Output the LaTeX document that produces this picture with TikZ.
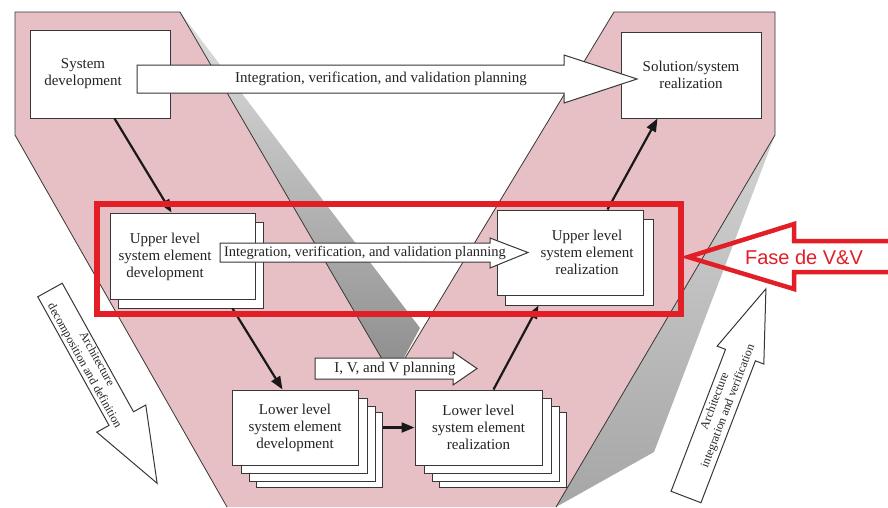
\documentclass[tikz,border=0pt]{standalone}
\usepackage{fontspec}
\setmainfont{Liberation Serif}
\newfontfamily\arialf{Liberation Sans}
\usetikzlibrary{arrows.meta,calc}
\definecolor{vpink}{RGB}{231,192,197}
\definecolor{vred}{RGB}{226,30,38}
\definecolor{edgec}{RGB}{55,55,55}
\definecolor{txtc}{RGB}{35,35,35}
\begin{document}
\begin{tikzpicture}[x=1pt,y=-1pt,
  box/.style={draw=edgec, fill=white, line width=1pt, inner sep=0pt},
  lbl/.style={text=txtc, font=\fontsize{15}{17}\selectfont, align=center, inner sep=0pt},
  rotlbl/.style={text=txtc, font=\fontsize{12}{14}\selectfont, align=center, inner sep=0pt},
  blockarrow/.style={draw=edgec, fill=white, line width=1pt, line join=miter},
  conn/.style={draw=black!90, line width=2.2pt, -{Triangle[length=13pt,width=10pt]}},
]
\useasboundingbox (0,0) rectangle (888,507);
\fill[white] (0,0) rectangle (888,507);

% V shape
\fill[vpink] (15,12)--(180,12)--(393,378)--(614,12)--(775,12)--(775,135)--(556,507)--(227,507)--(15,135)--cycle;
\shade[top color=gray!25, bottom color=gray!90] (180,12)--(420,328)--(393,378)--cycle;
\shade[top color=gray!35, bottom color=gray!70] (775,135)--(654,452)--(556,507)--cycle;
\draw[edgec, line width=0.8pt] (227,507)--(15,135)--(15,12)--(180,12)--(393,378)--(614,12)--(775,12)--(775,135)--(556,507);

% boxes
\node[box, minimum width=140pt, minimum height=88pt] (sd) at (100,74) {};
\node[box, minimum width=140pt, minimum height=86pt] (sol) at (691,75) {};
\node[box, minimum width=145pt, minimum height=86pt] (udb) at (190.5,265) {};
\node[box, minimum width=145pt, minimum height=86pt] (ud) at (182.5,256) {};
\node[box, minimum width=148pt, minimum height=86pt] (urb) at (579,262) {};
\node[box, minimum width=146pt, minimum height=85pt] (ur) at (570,252.5) {};

\node[box, minimum width=126pt, minimum height=75pt] (ldc) at (319,449.5) {};
\node[box, minimum width=126pt, minimum height=75pt] (ldb2) at (312,443.5) {};
\node[box, minimum width=126pt, minimum height=75pt] (ldb1) at (304,435.5) {};
\node[box, minimum width=126pt, minimum height=75pt] (ld) at (295,427.5) {};

\node[box, minimum width=127pt, minimum height=75pt] (lrc) at (502.5,449.5) {};
\node[box, minimum width=127pt, minimum height=75pt] (lrb2) at (495.5,443.5) {};
\node[box, minimum width=127pt, minimum height=75pt] (lrb1) at (487.5,435.5) {};
\node[box, minimum width=127pt, minimum height=75pt] (lr) at (478.5,427.5) {};

% box texts
\node[lbl] (sdt) at (83,74) {System\\development};
\node[lbl] (solt) at (691,75) {Solution/system\\realization};
\node[lbl] (udt) at (165,257) {Upper level\\system element\\development};
\node[lbl] (urt) at (587,252) {Upper level\\system element\\realization};
\node[lbl] (ldt) at (295,427.5) {Lower level\\system element\\development};
\node[lbl] (lrt) at (478.5,427.5) {Lower level\\system element\\realization};

% block arrows
\draw[blockarrow] (137,65)--(564,65)--(564,55)--(637,79)--(564,103)--(564,93)--(137,93)--cycle;
\node[lbl] (ivv1) at (381,79) {Integration, verification, and validation planning};
\draw[blockarrow] (220,243)--(490,243)--(490,238)--(528,252.5)--(490,268)--(490,262)--(220,262)--cycle;
\node[lbl, font=\fontsize{14.5}{17}\selectfont] (ivv2) at (365,253) {Integration, verification, and validation planning};
\draw[blockarrow] (315,358)--(453,358)--(453,352)--(477,368.5)--(453,385)--(453,379)--(315,379)--cycle;
\node[lbl] (ivv3) at (395,368.5) {I, V, and V planning};

% connectors
\draw[conn] ([xshift=85pt]sd.south west) -- ([xshift=62pt]ud.north west);
\draw[conn] ([xshift=115pt]udb.south west) -- ([xshift=51pt]ld.north west);
\draw[conn] (ld.east -| ldc.east) -- (lr.west);
\draw[conn] ([xshift=79pt]lr.north west) -- ([xshift=34pt]urb.south west);
\draw[conn] ([xshift=111pt]ur.north west) -- ([xshift=37pt]sol.south west);

% side arrows
\begin{scope}[shift={(50,290)}, rotate=-61]
\draw[blockarrow] (0,-14)--(147,-14)--(147,-28)--(221,0)--(147,28)--(147,14)--(0,14)--cycle;
\node[rotlbl, rotate=-61] (adl) at (83,0) {Architecture\\decomposition and definition};
\end{scope}
\begin{scope}[shift={(686,497)}, rotate=69]
\draw[blockarrow] (0,-16)--(152,-16)--(152,-25)--(223,0)--(152,25)--(152,16)--(0,16)--cycle;
\node[rotlbl, rotate=69] (aiv) at (100,0) {Architecture\\integration and verification};
\end{scope}

% red highlight
\draw[vred, line width=5.5pt] (97,204) rectangle (681,314);
\draw[vred, line width=4.5pt, line join=miter] (895,241)--(794,241)--(794,224)--(688,257)--(794,289)--(794,272)--(895,272);
\node[text=vred, font=\arialf\fontsize{20}{22}\selectfont, inner sep=0pt] (fase) at (804,257) {Fase de V\&V};
\end{tikzpicture}
\end{document}
